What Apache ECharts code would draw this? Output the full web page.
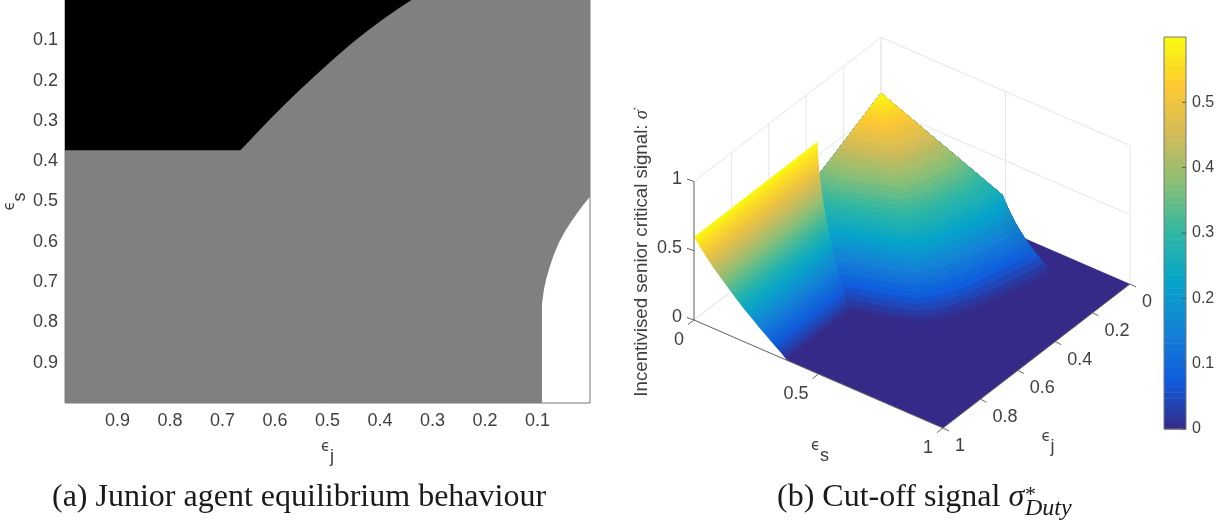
<!DOCTYPE html>
<html>
<head>
<meta charset="utf-8">
<title>Junior agent behaviour and cut-off signal</title>
<script src="https://cdn.jsdelivr.net/npm/echarts@6/dist/echarts.min.js"></script>
<style>
  html, body { margin: 0; background: #fff; }
  #chart { width: 1226px; height: 522px; }
</style>
</head>
<body>
<div id="chart"></div>
<script>
// left panel ticks
const leftTicks = [0.1, 0.2, 0.3, 0.4, 0.5, 0.6, 0.7, 0.8, 0.9];

// black region edge, shared with the raised front part of the surface
const frontS = [0, 0.02, 0.05, 0.08, 0.11, 0.14, 0.17, 0.2, 0.23, 0.26, 0.29, 0.32, 0.35, 0.373];
const frontEdgeJ = [0.34, 0.3635, 0.397, 0.4275, 0.456, 0.483, 0.5085, 0.5335, 0.5585, 0.582, 0.605, 0.6275, 0.649, 0.666];
const frontZ = [0.6, 0.555, 0.492, 0.435, 0.383, 0.333, 0.285, 0.238, 0.195, 0.153, 0.112, 0.073, 0.034, 0];

// white region edge as [eps_s, eps_j]
const whiteEdge = [[0.488, 0], [0.507, 0.012], [0.528, 0.024], [0.55, 0.036], [0.575, 0.048], [0.602, 0.059],
  [0.632, 0.069], [0.663, 0.077], [0.69, 0.083], [0.72, 0.088], [0.755, 0.0915]];

// where the cone part reaches the floor, as [eps_s, eps_j]
const zeroArc = [[0.756, 0.133], [0.742, 0.199], [0.7245, 0.2637], [0.7087, 0.3305], [0.691, 0.399], [0.6643, 0.4652],
  [0.6282, 0.5271], [0.592, 0.5717], [0.529, 0.603], [0.4706, 0.6245], [0.417, 0.641], [0.384, 0.652]];

// height of the cone part against distance from the far corner
const coneR = [0, 0.02, 0.04, 0.06, 0.08, 0.1, 0.12, 0.14, 0.16, 0.18, 0.2, 0.22, 0.24, 0.26, 0.28, 0.3, 0.32, 0.34, 0.36,
  0.38, 0.4, 0.42, 0.44, 0.46, 0.48, 0.5, 0.52, 0.54, 0.56, 0.58, 0.6, 0.62, 0.64, 0.66, 0.68, 0.7, 0.72, 0.74, 0.755];
const coneZ = [0.6, 0.585, 0.571, 0.556, 0.542, 0.527, 0.512, 0.498, 0.483, 0.469, 0.454, 0.439, 0.425, 0.41, 0.396, 0.381, 0.366, 0.352, 0.337,
  0.323, 0.308, 0.293, 0.279, 0.264, 0.25, 0.235, 0.216, 0.198, 0.18, 0.161, 0.143, 0.124, 0.106, 0.088, 0.069, 0.051, 0.032, 0.014, 0];

// 3D axis ticks
const sTicks = [0, 0.5, 1];
const jTicks = [0, 0.2, 0.4, 0.6, 0.8, 1];
const zTicks = [0, 0.5, 1];
const colorbarTicks = [0, 0.1, 0.2, 0.3, 0.4, 0.5];

const parula = ['#352A87', '#0F5CDD', '#1481D6', '#06A4CA', '#2EB7A4', '#87BF77', '#D1BB59', '#FEC832', '#F9FB0E'];
const zMax = 0.6;
const textColor = '#404040';
const sansFont = '"Liberation Sans", Arial, sans-serif';
const serifFont = '"Liberation Serif", serif';

const colorAt = z => echarts.color.lerp(Math.min(z / zMax, 1), parula);

// view of the 3D box in page pixels
const backCorner = [881, 176];
const sDir = [249, 108];
const jDir = [-187, 144];
const zHeight = 138.5;

const project = (s, j, z) => [
  backCorner[0] + s * sDir[0] + j * jDir[0],
  backCorner[1] + s * sDir[1] + j * jDir[1] - z * zHeight
];

const coneHeight = r => {
  for (let i = 1; i < coneR.length; i++) {
    if (r <= coneR[i]) {
      const t = (r - coneR[i - 1]) / (coneR[i] - coneR[i - 1]);
      return coneZ[i - 1] + t * (coneZ[i] - coneZ[i - 1]);
    }
  }
  return 0;
};

const frontEdge = frontS.map((s, i) => [s, frontEdgeJ[i]]);

// surface pieces, far to near
const surface = [];

// floor, its inner corner stays hidden under the front part
surface.push({
  points: [[0.373, 1], [1, 1], [1, 0], [0.488, 0], [0.3, 0.6]].map(p => project(p[0], p[1], 0)),
  fill: colorAt(0)
});

// cone part: one flat band per ring, outermost first, each painted over the last.
// rays past the last ring radius stretch the rings so they follow the bulge of zeroArc
const coneEdge = whiteEdge.concat(zeroArc, frontEdge.slice().reverse());
const lastR = coneR[coneR.length - 1];
const ringPoint = (edge, r) => {
  const len = Math.hypot(edge[0], edge[1]);
  const stretch = Math.max(len / lastR, 1);
  const k = Math.min(r * stretch / len, 1);
  return project(edge[0] * k, edge[1] * k, coneHeight(k * len / stretch));
};
for (let i = coneR.length - 1; i > 0; i--) {
  const chain = coneEdge.map(e => ringPoint(e, coneR[i]));
  surface.push({
    points: [project(0, 0, coneZ[0])].concat(chain),
    fill: colorAt((coneZ[i] + coneZ[i - 1]) / 2)
  });
}

// wall dropping from the cone to the white region
const wallTop = whiteEdge.map(e => project(e[0], e[1], coneHeight(Math.hypot(e[0], e[1]))));
const wallLow = whiteEdge.map(e => project(e[0], e[1], 0));
const wallStart = wallTop[0];
const wallEnd = wallLow[wallLow.length - 1];
surface.push({
  points: wallTop.concat(wallLow.slice().reverse()),
  fill: new echarts.graphic.LinearGradient(wallStart[0], wallStart[1], wallEnd[0], wallEnd[1], [
    { offset: 0, color: colorAt(coneHeight(Math.hypot(whiteEdge[0][0], whiteEdge[0][1]))) },
    { offset: 0.75, color: colorAt(0.07) },
    { offset: 1, color: colorAt(0) }
  ], true)
});

// raised front part: height only changes with eps_s, so one gradient across it is enough
const frontNear = frontS.map((s, i) => project(s, 1, frontZ[i]));
const frontFar = frontS.map((s, i) => project(s, frontEdgeJ[i], frontZ[i]));
const jLen = Math.hypot(jDir[0], jDir[1]);
const frontNormal = [jDir[1] / jLen, -jDir[0] / jLen];
const frontOffset = p => (p[0] - frontNear[0][0]) * frontNormal[0] + (p[1] - frontNear[0][1]) * frontNormal[1];
const frontSpan = frontOffset(frontNear[frontNear.length - 1]);
surface.push({
  points: frontNear.concat(frontFar.slice().reverse()),
  fill: new echarts.graphic.LinearGradient(
    frontNear[0][0], frontNear[0][1],
    frontNear[0][0] + frontNormal[0] * frontSpan, frontNear[0][1] + frontNormal[1] * frontSpan,
    frontNear.map((p, i) => ({ offset: frontOffset(p) / frontSpan, color: colorAt(frontZ[i]) })),
    true
  )
});

// back walls and floor grid
const gridSegments = [];
zTicks.forEach(z => {
  gridSegments.push([project(0, 1, z), project(0, 0, z)]);
  gridSegments.push([project(0, 0, z), project(1, 0, z)]);
});
jTicks.forEach(j => {
  gridSegments.push([project(0, j, 0), project(0, j, 1)]);
  gridSegments.push([project(0, j, 0), project(1, j, 0)]);
});
sTicks.forEach(s => {
  gridSegments.push([project(s, 0, 0), project(s, 0, 1)]);
  gridSegments.push([project(s, 0, 0), project(s, 1, 0)]);
});

// box axes and tick marks
const axisSegments = [
  [project(0, 1, 0), project(0, 1, 1)],
  [project(0, 1, 0), project(1, 1, 0)],
  [project(1, 1, 0), project(1, 0, 0)]
];
zTicks.forEach(z => {
  const p = project(0, 1, z);
  axisSegments.push([p, [p[0] - 7, p[1] - 2.5]]);
});
sTicks.forEach(s => {
  const p = project(s, 1, 0);
  axisSegments.push([p, [p[0] - 6, p[1] + 4.6]]);
});
jTicks.forEach(j => {
  const p = project(1, j, 0);
  axisSegments.push([p, [p[0] + 6, p[1] + 3]]);
});

// box tick labels
const boxLabels = [];
zTicks.forEach(z => {
  const p = project(0, 1, z);
  boxLabels.push({ text: String(z), x: 682, y: p[1] - 2.5, align: 'right' });
});
sTicks.forEach(s => {
  const p = project(s, 1, 0);
  boxLabels.push({ text: String(s), x: p[0] - 10, y: p[1] + 20, align: 'right' });
});
jTicks.forEach(j => {
  const p = project(1, j, 0);
  boxLabels.push({ text: String(j), x: p[0] + 12, y: p[1] + 18, align: 'left' });
});

const segmentSeries = (segments, color, z) => ({
  type: 'custom',
  xAxisIndex: 1,
  yAxisIndex: 1,
  silent: true,
  z: z,
  clip: false,
  progressive: 0,
  data: segments.map((_, i) => i),
  renderItem: (params, api) => {
    const seg = segments[params.dataIndex];
    const a = api.coord(seg[0]);
    const b = api.coord(seg[1]);
    return {
      type: 'line',
      shape: { x1: a[0], y1: a[1], x2: b[0], y2: b[1] },
      style: { stroke: color, lineWidth: 1 }
    };
  }
});

const regionSeries = (points, fill) => ({
  type: 'custom',
  xAxisIndex: 0,
  yAxisIndex: 0,
  silent: true,
  data: [0],
  renderItem: (params, api) => ({
    type: 'polygon',
    shape: { points: points.map(p => api.coord(p)) },
    style: { fill: fill }
  })
});

// left panel regions use [eps_j, eps_s]
const grayRegion = [[1, 0], [0, 0]].concat(
  whiteEdge.map(p => [p[1], p[0]]),
  [[0.0915, 1], [1, 1]]
);
const blackRegion = [[1, 0]].concat(
  frontEdge.map(p => [p[1], p[0]]),
  [[1, 0.373]]
);

const epsilonLabel = sub => '{e|ϵ}{sub|' + sub + '}';
const epsilonRich = {
  e: { fontSize: 15, fontFamily: 'DejaVu Sans', fill: textColor, color: textColor, verticalAlign: 'top', lineHeight: 26 },
  sub: { fontSize: 18, fontFamily: 'Liberation Sans', fill: textColor, color: textColor, verticalAlign: 'bottom', lineHeight: 26 }
};

const chart = echarts.init(document.getElementById('chart'));

chart.setOption({
  animation: false,
  backgroundColor: '#fff',
  grid: [
    { left: 65, top: 0, width: 525, height: 403, show: true, borderColor: '#777', borderWidth: 1, backgroundColor: 'transparent' },
    { left: 0, top: 0, width: 1226, height: 522 },
    { left: 1164, top: 37, width: 22, height: 392 }
  ],
  xAxis: [
    {
      type: 'value', gridIndex: 0, min: 0, max: 1, interval: 0.1, inverse: true,
      name: epsilonLabel('j'), nameLocation: 'middle', nameGap: 37,
      nameTextStyle: { rich: epsilonRich },
      axisLine: { show: false }, axisTick: { show: false }, splitLine: { show: false },
      axisLabel: {
        margin: 9, color: textColor, fontSize: 18, fontFamily: sansFont,
        showMinLabel: false, showMaxLabel: false,
        formatter: v => leftTicks.indexOf(+v.toFixed(1)) >= 0 ? v.toFixed(1) : ''
      }
    },
    { type: 'value', gridIndex: 1, min: 0, max: 1226, show: false },
    { type: 'value', gridIndex: 2, min: 0, max: 1, show: false }
  ],
  yAxis: [
    {
      type: 'value', gridIndex: 0, min: 0, max: 1, interval: 0.1, inverse: true,
      name: epsilonLabel('s'), nameLocation: 'middle', nameGap: 35,
      nameTextStyle: { rich: epsilonRich },
      axisLine: { show: false }, axisTick: { show: false }, splitLine: { show: false },
      axisLabel: {
        margin: 7, color: textColor, fontSize: 18, fontFamily: sansFont,
        showMinLabel: false, showMaxLabel: false,
        formatter: v => leftTicks.indexOf(+v.toFixed(1)) >= 0 ? v.toFixed(1) : ''
      }
    },
    { type: 'value', gridIndex: 1, min: 0, max: 522, inverse: true, show: false },
    {
      type: 'value', gridIndex: 2, min: 0, max: zMax, interval: 0.1, position: 'right',
      axisLine: { show: false }, splitLine: { show: false },
      axisTick: { show: false },
      axisLabel: {
        margin: 6, color: textColor, fontSize: 16, fontFamily: sansFont,
        formatter: v => colorbarTicks.indexOf(+v.toFixed(1)) >= 0 ? String(+v.toFixed(1)) : ''
      }
    }
  ],
  series: [
    regionSeries(grayRegion, '#808080'),
    regionSeries(blackRegion, '#000'),
    segmentSeries(gridSegments, '#e6e6e6', 1),
    {
      type: 'custom',
      xAxisIndex: 1,
      yAxisIndex: 1,
      silent: true,
      z: 2,
      clip: false,
      progressive: 0,
      data: surface.map((_, i) => i),
      renderItem: (params, api) => {
        const piece = surface[params.dataIndex];
        return {
          type: 'polygon',
          shape: { points: piece.points.map(p => api.coord(p)) },
          style: { fill: piece.fill }
        };
      }
    },
    segmentSeries(axisSegments, '#666', 3),
    {
      type: 'custom',
      xAxisIndex: 1,
      yAxisIndex: 1,
      silent: true,
      z: 3,
      clip: false,
      data: boxLabels.map((_, i) => i),
      renderItem: (params, api) => {
        const label = boxLabels[params.dataIndex];
        const p = api.coord([label.x, label.y]);
        return {
          type: 'text',
          style: {
            text: label.text, x: p[0], y: p[1], align: label.align, verticalAlign: 'middle',
            fill: textColor, font: '18px ' + sansFont
          }
        };
      }
    },
    {
      // colorbar, same 64 step map as the surface
      type: 'custom',
      xAxisIndex: 2,
      yAxisIndex: 2,
      silent: true,
      z: 1,
      progressive: 0,
      clip: false,
      data: Array.from({ length: 64 }, (_, i) => i),
      renderItem: (params, api) => {
        const i = params.dataIndex;
        const a = api.coord([0, i / 64 * zMax]);
        const b = api.coord([1, (i + 1) / 64 * zMax]);
        return {
          type: 'rect',
          shape: { x: a[0], y: b[1], width: b[0] - a[0], height: a[1] - b[1] + 0.5 },
          style: { fill: colorAt((i + 0.5) / 64 * zMax) }
        };
      }
    },
    {
      // colorbar frame and inward ticks
      type: 'custom',
      xAxisIndex: 2,
      yAxisIndex: 2,
      silent: true,
      z: 3,
      clip: false,
      data: [0].concat(colorbarTicks.map((_, i) => i + 1)),
      renderItem: (params, api) => {
        if (params.dataIndex === 0) {
          const a = api.coord([0, zMax]);
          const b = api.coord([1, 0]);
          return {
            type: 'rect',
            shape: { x: a[0], y: a[1], width: b[0] - a[0], height: b[1] - a[1] },
            style: { fill: 'none', stroke: '#777', lineWidth: 1 }
          };
        }
        const p = api.coord([1, colorbarTicks[params.dataIndex - 1]]);
        return {
          type: 'line',
          shape: { x1: p[0] - 4, y1: p[1], x2: p[0], y2: p[1] },
          style: { stroke: '#555', lineWidth: 1 }
        };
      }
    }
  ],
  graphic: [
    {
      type: 'text', x: 52, y: 482,
      style: { text: '(a) Junior agent equilibrium behaviour', font: '32px ' + serifFont, fill: '#1a1a1a' }
    },
    {
      type: 'text', x: 777, y: 482,
      style: {
        text: '{n|(b) Cut-off signal }{i|σ}',
        rich: {
          n: { font: '32px ' + serifFont, fill: '#1a1a1a' },
          i: { font: 'italic 32px ' + serifFont, fill: '#1a1a1a' }
        }
      }
    },
    {
      type: 'text', x: 1025, y: 484,
      style: { text: '*', font: '22px ' + serifFont, fill: '#1a1a1a' }
    },
    {
      type: 'text', x: 1025, y: 497,
      style: { text: 'Duty', font: 'italic 24px ' + serifFont, fill: '#1a1a1a' }
    },
    {
      type: 'text', x: 642, y: 252, rotation: Math.PI / 2,
      style: {
        text: '{n|Incentivised senior critical signal: }{i|σ}{u|*}',
        align: 'center', verticalAlign: 'middle',
        rich: {
          n: { font: '18.7px ' + sansFont, fill: textColor },
          i: { font: 'italic 18.7px ' + serifFont, fill: textColor },
          u: { font: '7px ' + sansFont, fill: textColor, verticalAlign: 'top' }
        }
      }
    },
    {
      type: 'text', x: 820, y: 452,
      style: { text: epsilonLabel('s'), align: 'center', verticalAlign: 'middle', rich: epsilonRich }
    },
    {
      type: 'text', x: 1048, y: 443,
      style: { text: epsilonLabel('j'), align: 'center', verticalAlign: 'middle', rich: epsilonRich }
    }
  ]
});
</script>
</body>
</html>
